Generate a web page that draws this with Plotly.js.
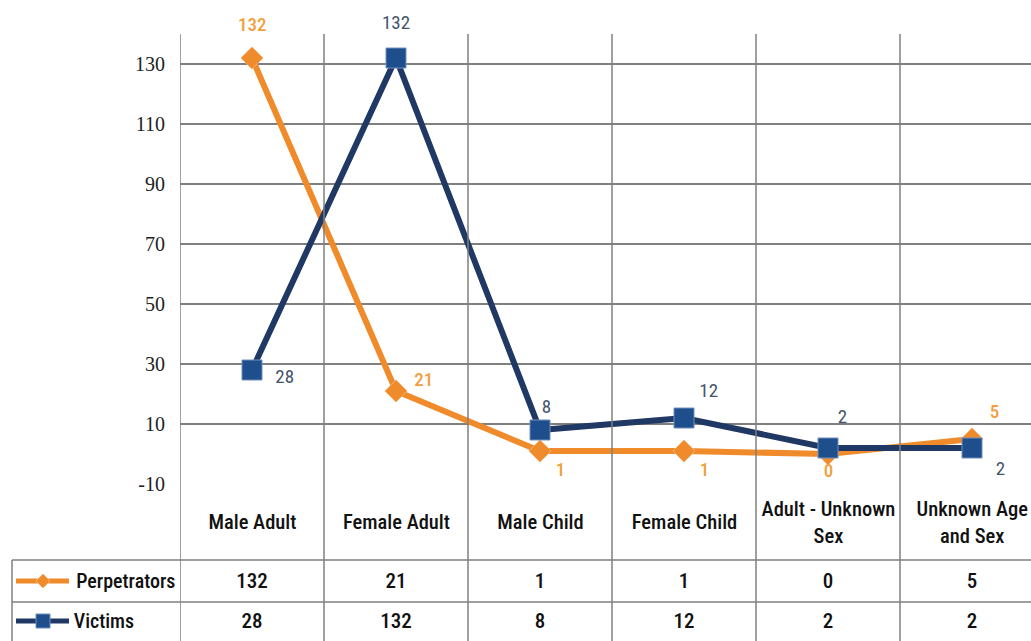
<!DOCTYPE html>
<html>
<head>
<meta charset="utf-8">
<script src="https://cdn.plot.ly/plotly-3.0.1.min.js"></script>
<style>
  html, body { margin: 0; padding: 0; background: #fff; }
  #chart { width: 1031px; height: 641px; }
  #chart .annotation-text { font-stretch: condensed; }
</style>
</head>
<body>
<div id="chart"></div>
<script>
// categories and series values
const categories = ["Male Adult", "Female Adult", "Male Child", "Female Child", "Adult - Unknown<br>Sex", "Unknown Age<br>and Sex"];
const perpetrators = [132, 21, 1, 1, 0, 5];
const victims = [28, 132, 8, 12, 2, 2];
const seriesNames = ["Perpetrators", "Victims"];
const yTicks = [-10, 10, 30, 50, 70, 90, 110, 130];

const ORANGE = "#f08b2c";
const ORANGE_TXT = "#f0a040";
const NAVY = "#1f3864";
const NAVY_FILL = "#1f4e8c";
const NAVY_TXT = "#44546a";
const GRID = "#7f7f7f";
const TABLE_FONT = "Roboto, 'Liberation Sans', sans-serif";

const idx = categories.map((_, i) => i);

// plot area: px 180..1031 horizontally, 34..484 vertically
const PLOT_L = 180, PLOT_T = 34, PLOT_B = 484, W = 1031, H = 641;
const px2x = (px) => (px - PLOT_L) / (W - PLOT_L);
const py2y = (py) => (PLOT_B - py) / (PLOT_B - PLOT_T);

const traces = [
    {
        x: idx, y: perpetrators, name: seriesNames[0], type: "scatter", mode: "lines+markers",
        line: { color: ORANGE, width: 6 },
        marker: { symbol: "diamond", size: 17, color: ORANGE, line: { width: 1, color: "#f5b070" } },
        hoverinfo: "y",
    },
    {
        x: idx, y: victims, name: seriesNames[1], type: "scatter", mode: "lines+markers",
        line: { color: NAVY, width: 6 },
        marker: { symbol: "square", size: 20, color: NAVY_FILL, line: { width: 1, color: "#6f8fbf" } },
        hoverinfo: "y",
    },
];

// data labels (offsets in px)
const perpOffsets = [[0, 34], [28, 12], [20, -18], [20, -18], [0, -16], [22, 28]];
const vicOffsets = [[32, -6], [0, 36], [6, 24], [24, 28], [14, 32], [28, -20]];

const annotations = [];
perpetrators.forEach((v, i) => {
    annotations.push({
        x: i, y: v, xref: "x", yref: "y", text: String(v), showarrow: false,
        xshift: perpOffsets[i][0], yshift: perpOffsets[i][1],
        font: { family: TABLE_FONT, size: 19, weight: 500, color: ORANGE_TXT },
    });
});
victims.forEach((v, i) => {
    annotations.push({
        x: i, y: v, xref: "x", yref: "y", text: String(v), showarrow: false,
        xshift: vicOffsets[i][0], yshift: vicOffsets[i][1],
        font: { family: TABLE_FONT, size: 19, color: NAVY_TXT },
    });
});

// table rows: category row, perpetrators row, victims row
const rowLines = [484, 560, 602];
const rowCenters = [522, 581, 621];
categories.forEach((c, i) => {
    annotations.push({
        x: i, y: py2y(rowCenters[0]), xref: "x", yref: "paper", text: c, showarrow: false,
        yanchor: "middle", font: { family: TABLE_FONT, size: 20.5, weight: 500, color: "#111" },
    });
    annotations.push({
        x: i, y: py2y(rowCenters[1]), xref: "x", yref: "paper", text: String(perpetrators[i]), showarrow: false,
        yanchor: "middle", font: { family: TABLE_FONT, size: 21, weight: 500, color: "#111" },
    });
    annotations.push({
        x: i, y: py2y(rowCenters[2]), xref: "x", yref: "paper", text: String(victims[i]), showarrow: false,
        yanchor: "middle", font: { family: TABLE_FONT, size: 21, weight: 500, color: "#111" },
    });
});
seriesNames.forEach((n, k) => {
    annotations.push({
        x: px2x(68), y: py2y(rowCenters[k + 1]), xref: "paper", yref: "paper", text: n, showarrow: false,
        xanchor: "left", yanchor: "middle", font: { family: TABLE_FONT, size: 20, weight: 500, color: "#111" },
    });
});

// shapes: vertical grid/table lines and table row lines
const shapes = [];
for (let i = 0; i <= categories.length; i++) {
    shapes.push({
        type: "line", xref: "x", yref: "paper", x0: i - 0.5, x1: i - 0.5,
        y0: 1, y1: py2y(H + 5), line: { color: GRID, width: 1.5 },
    });
}
rowLines.slice(1).forEach((py) => {
    shapes.push({
        type: "line", xref: "paper", yref: "paper", x0: px2x(12), x1: 1.02,
        y0: py2y(py), y1: py2y(py), line: { color: GRID, width: 1.5 },
    });
});
shapes.push({
    type: "line", xref: "paper", yref: "paper", x0: px2x(12), x1: px2x(12),
    y0: py2y(560), y1: py2y(H + 5), line: { color: GRID, width: 1.5 },
});
// legend keys in the table
const keyColors = [ORANGE, NAVY];
keyColors.forEach((col, k) => {
    const cy = py2y(rowCenters[k + 1]);
    shapes.push({
        type: "line", xref: "paper", yref: "paper", x0: px2x(16), x1: px2x(69),
        y0: cy, y1: cy, line: { color: col, width: 5 },
    });
});
const dh = 7 / (PLOT_B - PLOT_T), dw = 7 / (W - PLOT_L);
const c0 = px2x(43), r0 = py2y(rowCenters[1]);
shapes.push({
    type: "path", xref: "paper", yref: "paper",
    path: `M ${c0 - dw} ${r0} L ${c0} ${r0 + dh} L ${c0 + dw} ${r0} L ${c0} ${r0 - dh} Z`,
    fillcolor: ORANGE, line: { color: "#f5b070", width: 1 },
});
const r1 = py2y(rowCenters[2]);
shapes.push({
    type: "rect", xref: "paper", yref: "paper",
    x0: c0 - dw, x1: c0 + dw, y0: r1 - dh, y1: r1 + dh,
    fillcolor: NAVY_FILL, line: { color: "#6f8fbf", width: 1 },
});

const layout = {
    width: W, height: H,
    margin: { l: PLOT_L, r: 0, t: PLOT_T, b: H - PLOT_B },
    paper_bgcolor: "#fff", plot_bgcolor: "#fff",
    showlegend: false,
    xaxis: {
        range: [-0.5, (W - PLOT_L) / 144 - 0.5],
        showgrid: false, zeroline: false, showticklabels: false, ticks: "",
    },
    yaxis: {
        range: [-10, 140], tickmode: "array", tickvals: yTicks, ticktext: yTicks.map(String),
        showgrid: true, gridcolor: GRID, gridwidth: 1.5, zeroline: false,
        ticks: "", ticklen: 0, ticklabelstandoff: 14,
        tickfont: { family: "'Liberation Serif', 'DejaVu Serif', serif", size: 20, color: "#222" },
    },
    annotations,
    shapes,
};

Plotly.newPlot("chart", traces, layout, { displayModeBar: false, staticPlot: true });
</script>
</body>
</html>
